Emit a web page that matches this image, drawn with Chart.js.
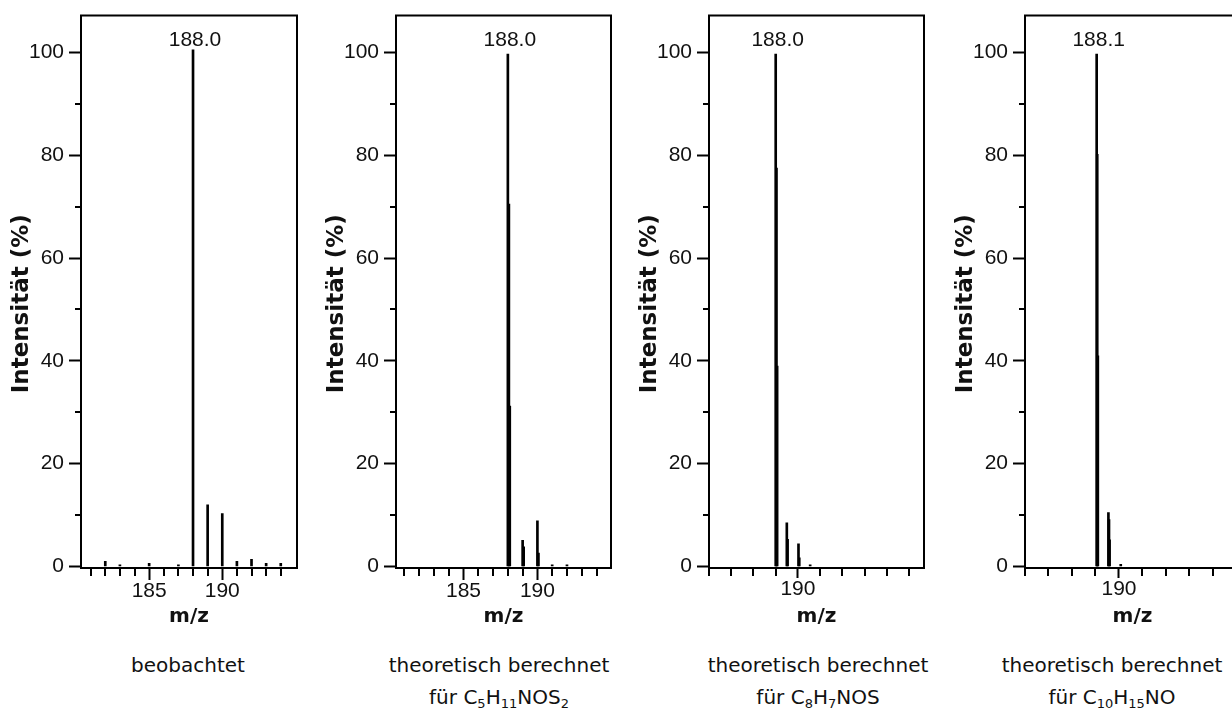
<!DOCTYPE html>
<html lang="de">
<head>
  <meta charset="UTF-8" />
  <title>Isotopenmuster m/z 188</title>
  <script src="https://cdn.jsdelivr.net/npm/chart.js"></script>
  <style>
    html, body { margin: 0; padding: 0; background: #fff; overflow: hidden; }
    body { width: 1232px; height: 708px; position: relative; }
    canvas { position: absolute; top: 0; }
    .cap {
      position: absolute; width: 300px; margin-left: -150px; text-align: center;
      font-family: "DejaVu Sans", Verdana, sans-serif; font-size: 20px; color: #111;
      line-height: 32px; white-space: nowrap;
    }
    .cap sub { font-size: 13px; vertical-align: -4px; line-height: 0; }
  </style>
</head>
<body>
  <canvas id="c0"></canvas>
  <canvas id="c1"></canvas>
  <canvas id="c2"></canvas>
  <canvas id="c3"></canvas>

  <div class="cap" style="left:188px; top:649px">beobachtet</div>
  <div class="cap" style="left:499px; top:649px">theoretisch berechnet<br>für C<sub>5</sub>H<sub>11</sub>NOS<sub>2</sub></div>
  <div class="cap" style="left:818px; top:649px">theoretisch berechnet<br>für C<sub>8</sub>H<sub>7</sub>NOS</div>
  <div class="cap" style="left:1112px; top:649px">theoretisch berechnet<br>für C<sub>10</sub>H<sub>15</sub>NO</div>

  <script>
    // peaks (m/z, relative intensity %)
    const mzObs  = [182, 183, 185, 187, 188, 189, 190, 191, 192, 193, 194];
    const intObs = [1.0, 0.3, 0.6, 0.3, 100.5, 12.0, 10.3, 1.0, 1.4, 0.6, 0.6];

    const mzC5  = [188.0, 188.07, 188.13, 189.0, 189.07, 190.0, 190.07, 191.0, 192.0];
    const intC5 = [99.7, 70.5, 31.2, 5.1, 3.8, 8.9, 2.6, 0.3, 0.3];

    const mzC8  = [188.0, 188.07, 188.13, 189.0, 189.07, 190.05, 190.12, 191.1];
    const intC8 = [99.7, 77.5, 39.0, 8.5, 5.3, 4.4, 1.7, 0.3];

    const mzC10  = [188.1, 188.15, 188.2, 189.1, 189.15, 189.2, 190.15];
    const intC10 = [99.7, 80.2, 41.0, 10.5, 9.1, 5.2, 0.4];

    const peakLabels = ['188.0', '188.0', '188.0', '188.1'];

    // axes
    const xMins = [180.34, 180.43, 182, 182];
    const xMaxs = [195.11, 194.98, 201.34, 200.3];
    const xTicksFine   = [181, 182, 183, 184, 185, 186, 187, 188, 189, 190, 191, 192, 193, 194];
    const xTicksCoarse = [182, 184, 186, 188, 190, 192, 194, 196, 198, 200];
    const xLabelsFine   = [185, 190];
    const xLabelsCoarse = [190];
    const yTicks  = [0, 10, 20, 30, 40, 50, 60, 70, 80, 90, 100];
    const yLabels = [0, 20, 40, 60, 80, 100];

    const mzSets  = [mzObs, mzC5, mzC8, mzC10];
    const intSets = [intObs, intC5, intC8, intC10];
    const xTickSets  = [xTicksFine, xTicksFine, xTicksCoarse, xTicksCoarse];
    const xLabelSets = [xLabelsFine, xLabelsFine, xLabelsCoarse, xLabelsCoarse];

    // layout: left edge of each plot frame and its width
    const frameLeft  = [81, 396, 709, 1025];
    const frameWidth = [216, 215, 215, 215];
    const Y_AXIS_W = 81, X_AXIS_H = 72, TOP = 14, RIGHT = 10;

    const numFont = { family: '"Liberation Sans", Arial, sans-serif', size: 21, lineHeight: 1 };
    const xTitleFont = { family: '"DejaVu Sans", Verdana, sans-serif', size: 20, weight: 'bold', lineHeight: 1 };
    const yTitleFont = { family: '"DejaVu Sans", Verdana, sans-serif', size: 23, weight: 'bold', lineHeight: 1 };
    const ink = '#111';

    const frame = {
      id: 'frame',
      afterDraw(chart) {
        const { ctx, chartArea: a } = chart;
        ctx.save();
        ctx.strokeStyle = '#000';
        ctx.lineWidth = 2;
        ctx.strokeRect(a.left, a.top, a.right - a.left, a.bottom - a.top);
        ctx.restore();
      }
    };

    // short ticks for the unlabelled positions
    const minorTicks = {
      id: 'minorTicks',
      afterDraw(chart, args, opts) {
        const { ctx, chartArea: a } = chart;
        const xs = chart.scales.x, ys = chart.scales.y;
        ctx.save();
        ctx.strokeStyle = '#000';
        ctx.lineWidth = 2;
        ctx.beginPath();
        xs.ticks.forEach(t => {
          if (opts.xMajor.includes(t.value)) return;
          const px = Math.round(xs.getPixelForValue(t.value));
          ctx.moveTo(px, a.bottom);
          ctx.lineTo(px, a.bottom + opts.xLen);
        });
        ys.ticks.forEach(t => {
          if (yLabels.includes(t.value)) return;
          const py = Math.round(ys.getPixelForValue(t.value));
          ctx.moveTo(a.left, py);
          ctx.lineTo(a.left - 6, py);
        });
        ctx.stroke();
        ctx.restore();
      }
    };

    // m/z value written above the base peak
    const peakLabel = {
      id: 'peakLabel',
      afterDatasetsDraw(chart, args, opts) {
        const ds = chart.data.datasets[0].data;
        let k = 0;
        ds.forEach((p, i) => { if (p.y > ds[k].y) k = i; });
        const el = chart.getDatasetMeta(0).data[k];
        const { ctx } = chart;
        ctx.save();
        ctx.font = '21px "Liberation Sans", Arial, sans-serif';
        ctx.fillStyle = ink;
        ctx.textAlign = 'center';
        ctx.textBaseline = 'alphabetic';
        ctx.fillText(opts.text, el.x + 2, chart.scales.y.getPixelForValue(100) - 7);
        ctx.restore();
      }
    };

    function buildChart(i) {
      const canvas = document.getElementById('c' + i);
      canvas.width = Y_AXIS_W + frameWidth[i] + RIGHT;
      canvas.height = TOP + 554 + X_AXIS_H;
      canvas.style.left = (frameLeft[i] - Y_AXIS_W) + 'px';

      const xMajor = xLabelSets[i];
      const fine = xTickSets[i] === xTicksFine;

      new Chart(canvas, {
        type: 'bar',
        data: {
          datasets: [{
            data: mzSets[i].map((x, k) => ({ x: x, y: intSets[i][k] })),
            backgroundColor: '#000',
            borderWidth: 0,
            barThickness: 2,
            grouped: false
          }]
        },
        options: {
          responsive: false,
          animation: false,
          devicePixelRatio: 1,
          layout: { padding: { top: TOP, right: RIGHT, left: 0, bottom: 0 } },
          plugins: {
            legend: { display: false },
            tooltip: { enabled: false },
            minorTicks: { xMajor: xMajor, xLen: 8 },
            peakLabel: { text: peakLabels[i] }
          },
          scales: {
            x: {
              type: 'linear',
              min: xMins[i],
              max: xMaxs[i],
              offset: false,
              afterBuildTicks: s => { s.ticks = xTickSets[i].map(v => ({ value: v })); },
              afterFit: s => { s.height = X_AXIS_H; },
              grid: {
                offset: false,
                drawOnChartArea: false,
                tickLength: fine ? 12 : 10,
                tickWidth: 2,
                tickColor: c => (c.tick && xMajor.includes(c.tick.value)) ? '#000' : 'rgba(0,0,0,0)'
              },
              border: { display: false },
              ticks: {
                autoSkip: false,
                maxRotation: 0,
                padding: 1,
                color: ink,
                font: numFont,
                callback: v => xMajor.includes(v) ? String(v) : ''
              },
              title: {
                display: true,
                text: 'm/z',
                color: ink,
                font: xTitleFont,
                padding: { top: 0, bottom: 13 }
              }
            },
            y: {
              min: -0.3,
              max: 107.2,
              afterBuildTicks: s => { s.ticks = yTicks.map(v => ({ value: v })); },
              afterFit: s => { s.width = Y_AXIS_W; },
              grid: {
                drawOnChartArea: false,
                tickLength: 12,
                tickWidth: 2,
                tickColor: c => (c.tick && yLabels.includes(c.tick.value)) ? '#000' : 'rgba(0,0,0,0)'
              },
              border: { display: false },
              ticks: {
                autoSkip: false,
                padding: 5,
                color: ink,
                font: numFont,
                callback: v => yLabels.includes(v) ? String(v) : ''
              },
              title: {
                display: true,
                // trailing spaces push the centred title a little below the axis middle, as in the original
                text: 'Intensität (%)   ',
                color: ink,
                font: yTitleFont,
                padding: { top: 11, bottom: 0 }
              }
            }
          }
        },
        plugins: [frame, minorTicks, peakLabel]
      });
    }

    [0, 1, 2, 3].forEach(buildChart);
  </script>
</body>
</html>
